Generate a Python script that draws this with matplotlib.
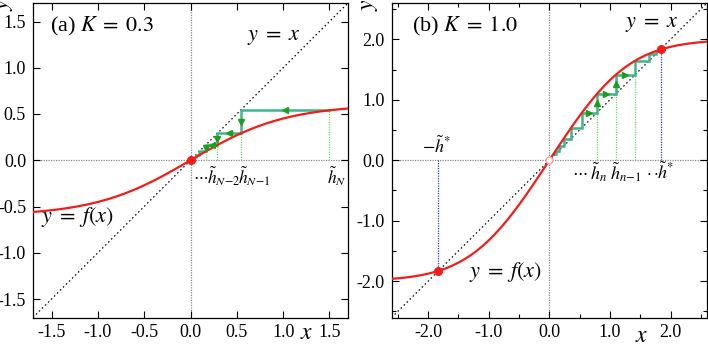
import numpy as np
import matplotlib
matplotlib.use("Agg")
import matplotlib.pyplot as plt
from matplotlib.ticker import FixedLocator, FixedFormatter

plt.rcParams['font.family'] = 'serif'
plt.rcParams['font.serif'] = ['Liberation Serif', 'DejaVu Serif']
plt.rcParams['mathtext.fontset'] = 'stix'
plt.rcParams['axes.unicode_minus'] = False

# ---- data: panel (a) K = 0.3 ----
xa = [-1.7, -1.6, -1.5, -1.4, -1.3, -1.2, -1.1, -1.0, -0.9, -0.8, -0.7, -0.6, -0.5, -0.4,
      -0.3, -0.2, -0.1, 0.0, 0.1, 0.2, 0.3, 0.4, 0.5, 0.6, 0.7, 0.8, 0.9, 1.0, 1.1, 1.2,
      1.3, 1.4, 1.5, 1.6, 1.7]
ya = [-0.5591, -0.5505, -0.5401, -0.5277, -0.5130, -0.4956, -0.4751, -0.4512, -0.4236,
      -0.3918, -0.3558, -0.3155, -0.2709, -0.2223, -0.1701, -0.1151, -0.0581, 0.0,
      0.0581, 0.1151, 0.1701, 0.2223, 0.2709, 0.3155, 0.3558, 0.3918, 0.4236, 0.4512,
      0.4751, 0.4956, 0.5130, 0.5277, 0.5401, 0.5505, 0.5591]
h_a = [1.5, 0.540, 0.290, 0.165, 0.095, 0.055, 0.032]
ticks_a = [-1.5, -1.0, -0.5, 0.0, 0.5, 1.0, 1.5]
ticklabels_a = ['-1.5', '-1.0', '-0.5', '0.0', '0.5', '1.0', '1.5']

# ---- data: panel (b) K = 1.0 ----
xb = [-2.6, -2.5, -2.4, -2.3, -2.2, -2.1, -2.0, -1.9, -1.8, -1.7, -1.6, -1.5, -1.4, -1.3,
      -1.2, -1.1, -1.0, -0.9, -0.8, -0.7, -0.6, -0.5, -0.4, -0.3, -0.2, -0.1, 0.0,
      0.1, 0.2, 0.3, 0.4, 0.5, 0.6, 0.7, 0.8, 0.9, 1.0, 1.1, 1.2, 1.3, 1.4, 1.5, 1.6,
      1.7, 1.8, 1.9, 2.0, 2.1, 2.2, 2.3, 2.4, 2.5, 2.6]
yb = [-1.9608, -1.9523, -1.9421, -1.9297, -1.9148, -1.8970, -1.8756, -1.8501, -1.8198,
      -1.7841, -1.7422, -1.6935, -1.6371, -1.5725, -1.4992, -1.4167, -1.3250, -1.2240,
      -1.1140, -0.9953, -0.8689, -0.7353, -0.5957, -0.4512, -0.3029, -0.1521, 0.0,
      0.1521, 0.3029, 0.4512, 0.5957, 0.7353, 0.8689, 0.9953, 1.1140, 1.2240, 1.3250,
      1.4167, 1.4992, 1.5725, 1.6371, 1.6935, 1.7422, 1.7841, 1.8198, 1.8501, 1.8756,
      1.8970, 1.9148, 1.9297, 1.9421, 1.9523, 1.9608]
h_b = [0.103, 0.157, 0.238, 0.359, 0.537, 0.785, 1.096, 1.413, 1.644, 1.761, 1.806, 1.822]
h_star = 1.835
ticks_b = [-2.0, -1.0, 0.0, 1.0, 2.0]
ticklabels_b = ['-2.0', '-1.0', '0.0', '1.0', '2.0']
minor_b = [-2.5, -1.5, -0.5, 0.5, 1.5, 2.5]

RED = '#f41c18'
STAIR = '#3db58c'
ARROW = '#1e9e1e'
GDOT = '#66dd66'
BLUE = '#3030ff'

fig = plt.figure(figsize=(7.08, 3.45), dpi=100)
axA = fig.add_axes([33 / 708, 27.5 / 345, 315 / 708, 314.5 / 345])
axB = fig.add_axes([391.7 / 708, 27.5 / 345, 315.3 / 708, 314.5 / 345])


def style(ax, lim, ticks, labels, minor=None):
    ax.set_xlim(-lim, lim)
    ax.set_ylim(-lim, lim)
    for a in (ax.xaxis, ax.yaxis):
        a.set_major_locator(FixedLocator(ticks))
        a.set_major_formatter(FixedFormatter(labels))
        if minor is not None:
            a.set_minor_locator(FixedLocator(minor))
    ax.tick_params(which='both', direction='in', top=True, right=True,
                   labelsize=13, width=0.8, pad=5)
    ax.tick_params(which='major', length=5)
    ax.tick_params(which='minor', length=3)
    for s in ax.spines.values():
        s.set_linewidth(0.9)
    ax.axhline(0, color='#888888', lw=0.9, ls=(0, (1, 1)), zorder=1)
    ax.axvline(0, color='#888888', lw=0.9, ls=(0, (1, 1)), zorder=1)
    ax.plot([-lim, lim], [-lim, lim], color='black', lw=0.9, ls=(0, (1.2, 2.2)), zorder=2)


def arrow(ax, p, q, mk):
    ax.plot([(p[0] + q[0]) / 2], [(p[1] + q[1]) / 2], marker=mk, ms=3.8,
            color=ARROW, mec=ARROW, zorder=6)


# ---------------- panel (a) ----------------
style(axA, 1.7, ticks_a, ticklabels_a)
for v, top in zip(h_a[:4], h_a[1:5]):
    axA.plot([v, v], [0, top], color=GDOT, lw=0.9, ls=(0, (1, 1)), zorder=2)
pts = [(h_a[0], h_a[1])]
for i in range(1, len(h_a) - 1):
    pts.append((h_a[i], h_a[i]))
    pts.append((h_a[i], h_a[i + 1]))
px, py = zip(*pts)
axA.plot(px, py, color=STAIR, lw=1.8, zorder=4, solid_joinstyle='miter')
axA.plot(xa, ya, color=RED, lw=1.6, zorder=5)
for i in range(0, 6):
    p, q = pts[i], pts[i + 1]
    arrow(axA, p, q, '<' if p[1] == q[1] else 'v')
axA.plot([0], [0], 'o', color=RED, ms=5.5, zorder=7)

axA.text(0.054, 0.924, r'(a) $K \;=\; 0.3$', transform=axA.transAxes, fontsize=16,
         ha='left', va='center')
axA.text(0.895, 1.33, r'$y \;=\; x$', fontsize=16, ha='center', va='center')
axA.text(-1.22, -0.61, r'$y \;=\; f(x)$', fontsize=16, ha='center', va='center')
axA.text(0.03, -0.17, r'$\cdots$', fontsize=11.5, ha='left', va='center')
axA.text(0.18, -0.17, r'$\tilde{h}_{N\!-\!2}$', fontsize=12.5, ha='left', va='center')
axA.text(0.51, -0.17, r'$\tilde{h}_{N\!-\!1}$', fontsize=12.5, ha='left', va='center')
axA.text(1.47, -0.17, r'$\tilde{h}_{N}$', fontsize=12.5, ha='left', va='center')
axA.text(0.867, -0.05, '$x$', transform=axA.transAxes, fontsize=17, ha='center', va='center')
axA.text(-0.09, 0.995, '$y$', transform=axA.transAxes, fontsize=17, ha='center',
         va='center', rotation=90)

# ---------------- panel (b) ----------------
style(axB, 2.6, ticks_b, ticklabels_b, minor_b)
for v in h_b[5:8]:
    axB.plot([v, v], [0, v], color=GDOT, lw=0.9, ls=(0, (1, 1)), zorder=2)
axB.plot([h_star, h_star], [0, h_star], color=BLUE, lw=0.9, ls=(0, (1, 1)), zorder=2)
axB.plot([-h_star, -h_star], [0, -h_star], color=BLUE, lw=0.9, ls=(0, (1, 1)), zorder=2)
pts = [(h_b[0], h_b[0])]
for i in range(len(h_b) - 1):
    pts.append((h_b[i], h_b[i + 1]))
    pts.append((h_b[i + 1], h_b[i + 1]))
px, py = zip(*pts)
axB.plot(px, py, color=STAIR, lw=1.8, zorder=4, solid_joinstyle='miter')
axB.plot(xb, yb, color=RED, lw=1.6, zorder=5)
for i in range(9, 14):
    p, q = pts[i], pts[i + 1]
    arrow(axB, p, q, '>' if p[1] == q[1] else '^')
axB.plot([h_star, -h_star], [h_star, -h_star], 'o', color=RED, ms=5.5, zorder=7)
axB.plot([0], [0], 'o', mfc='white', mec='#ff9a9a', mew=1.0, ms=5, zorder=7)

axB.text(0.064, 0.924, r'(b) $K \;=\; 1.0$', transform=axB.transAxes, fontsize=16,
         ha='left', va='center')
axB.text(1.69, 2.24, r'$y \;=\; x$', fontsize=16, ha='center', va='center')
axB.text(-0.73, -1.85, r'$y \;=\; f(x)$', fontsize=16, ha='center', va='center')
axB.text(-1.86, 0.23, r'$-\tilde{h}^{*}$', fontsize=13, ha='center', va='center')
axB.text(0.38, -0.2, r'$\cdots$', fontsize=12, ha='left', va='center')
axB.text(0.67, -0.2, r'$\tilde{h}_{n}$', fontsize=13, ha='left', va='center')
axB.text(1.0, -0.2, r'$\tilde{h}_{n\!-\!1}$', fontsize=13, ha='left', va='center')
axB.text(1.59, -0.2, r'$\cdot\cdot$', fontsize=12, ha='left', va='center')
axB.text(1.78, -0.2, r'$\tilde{h}^{*}$', fontsize=13, ha='left', va='center')
axB.text(0.794, -0.06, '$x$', transform=axB.transAxes, fontsize=17, ha='center', va='center')
axB.text(-0.069, 0.995, '$y$', transform=axB.transAxes, fontsize=17, ha='center',
         va='center', rotation=90)

fig.savefig('out.png', dpi=100)
